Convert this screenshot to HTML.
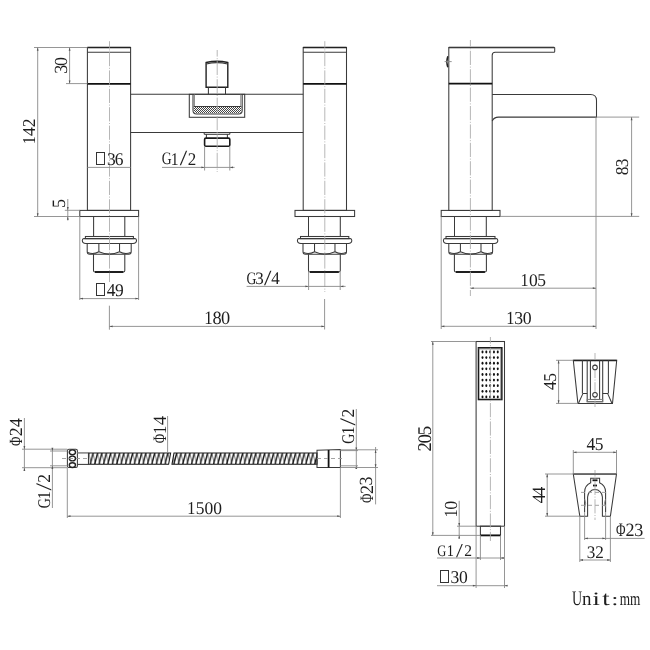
<!DOCTYPE html>
<html><head><meta charset="utf-8"><style>
html,body{margin:0;padding:0;background:#fff;}
.wrap{width:650px;height:650px;background:#fff;}
svg{display:block;will-change:transform;}
.o{fill:none;stroke:#3a3a3a;stroke-width:1.05;}
.k{fill:none;stroke:#111;stroke-width:1.8;}
.o2{fill:none;stroke:#222;stroke-width:1.4;}
.g2{fill:none;stroke:#888;stroke-width:1.6;}
.o4{fill:none;stroke:#222;stroke-width:1.5;}
.g3{fill:none;stroke:#555;stroke-width:1.4;}
.o3{fill:none;stroke:#1a1a1a;stroke-width:1.6;}
.g{fill:none;stroke:#777;stroke-width:0.9;}
.d{fill:none;stroke:#8a8a8a;stroke-width:0.9;}
.c{fill:none;stroke:#aaa;stroke-width:0.85;stroke-dasharray:14.2 1.6 1 1.6;stroke-dashoffset:7.6;}
.cd{fill:none;stroke:#999;stroke-width:0.9;stroke-dasharray:4 3;}
.ah{fill:#555;}
.t{fill:#1e1e1e;font-size:100px;stroke:none;text-rendering:geometricPrecision;}
.t2{fill:none;stroke:#333;stroke-width:1;shape-rendering:crispEdges;}
.hatch{fill:url(#ck);stroke:none;}
.dot{fill:#111;}
</style></head><body>
<svg width="650" height="650" viewBox="0 0 650 650">

<rect class="o" x="87.4" y="47.5" width="43.2" height="162.9"/>
<line class="o2" x1="87.4" y1="47.5" x2="130.6" y2="47.5"/>
<line class="o" x1="87.4" y1="52.2" x2="130.6" y2="52.2"/>
<line class="k" x1="87.4" y1="83.8" x2="130.6" y2="83.8"/>
<rect class="o" x="303.2" y="47.5" width="43.3" height="162.9"/>
<line class="o2" x1="303.2" y1="47.5" x2="346.5" y2="47.5"/>
<line class="o" x1="303.2" y1="52.2" x2="346.5" y2="52.2"/>
<line class="k" x1="303.2" y1="83.8" x2="346.5" y2="83.8"/>
<line class="o" x1="130.6" y1="94.3" x2="303.2" y2="94.3"/>
<line class="o" x1="130.6" y1="132.5" x2="303.2" y2="132.5"/>
<rect class="o" x="79.8" y="210.4" width="58.8" height="6.1"/>
<line class="o" x1="93.6" y1="216.5" x2="93.6" y2="236.5"/>
<line class="o" x1="124.8" y1="216.5" x2="124.8" y2="236.5"/>
<rect class="o" x="85.4" y="236.5" width="48" height="2.1"/>
<path class="o" d="M83.8,238.6 L135,238.6 Q136.5,238.8 136.5,240.6 Q136.5,243.4 133,243.5 L85.8,243.5 Q82.3,243.4 82.3,240.6 Q82.3,238.8 83.8,238.6 Z"/>
<path class="o" d="M87.2,243.5 L87.2,251.5 Q87.2,254.3 89.7,254.3 L128.7,254.3 Q131.2,254.3 131.2,251.5 L131.2,243.5"/>
<line class="o" x1="98.86" y1="243.5" x2="98.86" y2="251.8"/>
<line class="o" x1="119.54" y1="243.5" x2="119.54" y2="251.8"/>
<path class="o" d="M87.7,252.5 Q93.03,255 98.86,251.8 Q109.5,256.5 119.54,251.8 Q125.37,255 130.7,252.5"/>
<path class="o" d="M93.5,254.3 L93.5,270.5 Q93.5,272 95,272 L123.3,272 Q124.8,272 124.8,270.5 L124.8,254.3"/>
<line class="k" x1="95" y1="272" x2="123.3" y2="272"/>
<rect class="o" x="295" y="210.4" width="59.6" height="6.1"/>
<line class="o" x1="308.5" y1="216.5" x2="308.5" y2="236.5"/>
<line class="o" x1="340.3" y1="216.5" x2="340.3" y2="236.5"/>
<rect class="o" x="300.5" y="236.5" width="48.3" height="2.1"/>
<path class="o" d="M298.9,238.6 L350.3,238.6 Q351.8,238.8 351.8,240.6 Q351.8,243.4 348.3,243.5 L300.9,243.5 Q297.4,243.4 297.4,240.6 Q297.4,238.8 298.9,238.6 Z"/>
<path class="o" d="M303,243.5 L303,251.5 Q303,254.3 305.5,254.3 L344,254.3 Q346.5,254.3 346.5,251.5 L346.5,243.5"/>
<line class="o" x1="314.53" y1="243.5" x2="314.53" y2="251.8"/>
<line class="o" x1="334.97" y1="243.5" x2="334.97" y2="251.8"/>
<path class="o" d="M303.5,252.5 Q308.76,255 314.53,251.8 Q324.6,256.5 334.97,251.8 Q340.74,255 346,252.5"/>
<path class="o" d="M308.5,254.3 L308.5,270.5 Q308.5,272 310,272 L338.8,272 Q340.3,272 340.3,270.5 L340.3,254.3"/>
<line class="k" x1="310" y1="272" x2="338.8" y2="272"/>
<path class="o2" d="M206.1,87.3 L206.1,62.5 Q217,60.1 227.8,62.5 L227.8,87.3 Z"/>
<path class="o" d="M206.3,63.9 Q217,61.3 227.6,63.9"/>
<line class="o" x1="208.4" y1="87.3" x2="208.4" y2="94.3"/>
<line class="o" x1="225.5" y1="87.3" x2="225.5" y2="94.3"/>
<rect class="o" x="189.3" y="94.3" width="55.4" height="23"/>
<defs><pattern id="ck" patternUnits="userSpaceOnUse" width="2" height="2"><rect width="2" height="2" fill="#fff"/><rect width="1" height="1" fill="#444"/><rect x="1" y="1" width="1" height="1" fill="#444"/></pattern></defs>
<path class="hatch" d="M193.8,106.4 L241.4,106.4 L241.4,110.5 Q241.4,113.2 238.6,113.2 L196.6,113.2 Q193.8,113.2 193.8,110.5 Z"/>
<path class="o" d="M193,94.3 L193,110.5 Q193,114 196.5,114 L238.6,114 Q242.2,114 242.2,110.5 L242.2,94.3"/>
<path class="g" d="M194.4,94.3 L194.4,106.4 M240.8,94.3 L240.8,106.4"/>
<line class="o" x1="193.8" y1="106.4" x2="241.4" y2="106.4"/>
<line class="o" x1="204.2" y1="134.3" x2="229.8" y2="134.3"/>
<line class="o" x1="204.2" y1="132.5" x2="204.2" y2="134.3"/>
<line class="o" x1="229.8" y1="132.5" x2="229.8" y2="134.3"/>
<line class="o" x1="206.4" y1="134.3" x2="206.4" y2="137.9"/>
<line class="o" x1="227.4" y1="134.3" x2="227.4" y2="137.9"/>
<rect class="o3" x="204.6" y="138.1" width="25.2" height="8.1" rx="1.3"/>
<line class="c" x1="109.5" y1="41.2" x2="109.5" y2="282"/>
<line class="c" x1="324.8" y1="41.2" x2="324.8" y2="292"/>
<line class="c" x1="217.2" y1="50" x2="217.2" y2="172"/>
<line class="o2" x1="448.8" y1="47.5" x2="554.2" y2="47.5"/>
<path class="o" d="M448.8,210.4 L448.8,47.5 L554.2,47.5 Q554.7,47.5 554.7,47.8 L554.7,51.6 Q554.7,52.3 553.9,52.3 L495.2,52.3 Q492.2,52.3 492.2,55.3 L492.2,210.4 Z"/>
<line class="k" x1="448.8" y1="83.6" x2="492.2" y2="83.6"/>
<path class="o" d="M492.2,94.4 L590.5,94.4 Q596.5,94.4 596.5,100.4 L596.5,117.1 L498.5,117.1 Q494,117.1 492.2,121"/>
<path class="o2" d="M447.8,56.2 Q445.9,61.7 447.8,67.2"/>
<line class="d" x1="444.6" y1="61.6" x2="451.7" y2="61.6"/>
<rect class="o" x="441.2" y="210.4" width="58.8" height="6.1"/>
<line class="o" x1="454.5" y1="216.5" x2="454.5" y2="236.5"/>
<line class="o" x1="486.3" y1="216.5" x2="486.3" y2="236.5"/>
<rect class="o" x="446" y="236.5" width="49" height="2.1"/>
<path class="o" d="M444.9,238.6 L496.3,238.6 Q497.8,238.8 497.8,240.6 Q497.8,243.4 494.3,243.5 L446.9,243.5 Q443.4,243.4 443.4,240.6 Q443.4,238.8 444.9,238.6 Z"/>
<path class="o" d="M448.8,243.5 L448.8,251.5 Q448.8,254.3 451.3,254.3 L490.1,254.3 Q492.6,254.3 492.6,251.5 L492.6,243.5"/>
<line class="o" x1="460.41" y1="243.5" x2="460.41" y2="251.8"/>
<line class="o" x1="480.99" y1="243.5" x2="480.99" y2="251.8"/>
<path class="o" d="M449.3,252.5 Q454.6,255 460.41,251.8 Q470.5,256.5 480.99,251.8 Q486.8,255 492.1,252.5"/>
<path class="o" d="M454.4,254.3 L454.4,270.5 Q454.4,272 455.9,272 L484.9,272 Q486.4,272 486.4,270.5 L486.4,254.3"/>
<line class="k" x1="455.9" y1="272" x2="484.9" y2="272"/>
<line class="c" x1="470.4" y1="40" x2="470.4" y2="296"/>
<line class="d" x1="34" y1="47.5" x2="87.4" y2="47.5"/>
<line class="d" x1="34" y1="216.5" x2="79.8" y2="216.5"/>
<line class="d" x1="37.7" y1="47.5" x2="37.7" y2="216.5"/>
<polygon class="ah" points="37.7,47.5 36.8,50.7 38.6,50.7"/>
<polygon class="ah" points="37.7,216.5 36.8,213.3 38.6,213.3"/>
<text class="t" font-family="Liberation Serif" transform="translate(35.3,144.15) rotate(-90) scale(0.1611,0.1818)">1</text>
<text class="t" font-family="Liberation Serif" transform="translate(35.3,135.89) rotate(-90) scale(0.1745,0.1818)">4</text>
<text class="t" font-family="Liberation Serif" transform="translate(35.3,127.37) rotate(-90) scale(0.1745,0.1818)">2</text>
<line class="d" x1="66" y1="83.6" x2="87.4" y2="83.6"/>
<line class="d" x1="69.6" y1="47.5" x2="69.6" y2="83.6"/>
<polygon class="ah" points="69.6,47.5 68.7,50.7 70.5,50.7"/>
<polygon class="ah" points="69.6,83.6 68.7,80.4 70.5,80.4"/>
<text class="t" font-family="Liberation Serif" transform="translate(67.21,73.7) rotate(-90) scale(0.1804,0.1851)">3</text>
<text class="t" font-family="Liberation Serif" transform="translate(67.22,66.1) rotate(-90) scale(0.1804,0.1837)">0</text>
<line class="d" x1="64.8" y1="210.3" x2="79.8" y2="210.3"/>
<line class="d" x1="67.8" y1="199" x2="67.8" y2="220.5"/>
<polygon class="ah" points="67.8,210.3 66.9,207.1 68.7,207.1"/>
<polygon class="ah" points="67.8,216.5 66.9,219.7 68.7,219.7"/>
<text class="t" font-family="Liberation Serif" transform="translate(65.21,207.93) rotate(-90) scale(0.1818,0.1880)">5</text>
<line class="d" x1="87.4" y1="167.4" x2="130.6" y2="167.4"/>
<rect class="t2" x="96.5" y="152.5" width="8" height="12"/>
<text class="t" font-family="Liberation Serif" transform="translate(106.93,164.72) scale(0.1745,0.1791)">3</text>
<text class="t" font-family="Liberation Serif" transform="translate(114.8,164.72) scale(0.1745,0.1791)">6</text>
<line class="d" x1="162" y1="167.4" x2="234.6" y2="167.4"/>
<polygon class="ah" points="204.6,167.4 201.4,166.5 201.4,168.3"/>
<polygon class="ah" points="229.8,167.4 233,166.5 233,168.3"/>
<line class="d" x1="204.6" y1="146.5" x2="204.6" y2="170.5"/>
<line class="d" x1="229.8" y1="146.5" x2="229.8" y2="170.5"/>
<text class="t" font-family="Liberation Serif" transform="translate(161.65,164.43) scale(0.1368,0.1746)">G</text>
<text class="t" font-family="Liberation Serif" transform="translate(170.87,164.6) scale(0.1571,0.1773)">1</text>
<text class="t" font-family="Liberation Serif" transform="translate(179.73,165.44) scale(0.2680,0.2148)">/</text>
<text class="t" font-family="Liberation Serif" transform="translate(187.63,164.6) scale(0.1702,0.1773)">2</text>
<line class="d" x1="79.8" y1="216.5" x2="79.8" y2="300"/>
<line class="d" x1="138.6" y1="216.5" x2="138.6" y2="300"/>
<line class="d" x1="79.8" y1="298.6" x2="138.6" y2="298.6"/>
<polygon class="ah" points="79.8,298.6 83,297.7 83,299.5"/>
<polygon class="ah" points="138.6,298.6 135.4,297.7 135.4,299.5"/>
<rect class="t2" x="96.5" y="283.5" width="8" height="12"/>
<text class="t" font-family="Liberation Serif" transform="translate(106.85,296) scale(0.1745,0.1818)">4</text>
<text class="t" font-family="Liberation Serif" transform="translate(114.97,295.82) scale(0.1745,0.1791)">9</text>
<line class="d" x1="109.4" y1="305.7" x2="109.4" y2="329.7"/>
<line class="d" x1="324.6" y1="299" x2="324.6" y2="329.5"/>
<line class="d" x1="109.4" y1="326.4" x2="324.6" y2="326.4"/>
<polygon class="ah" points="109.4,326.4 112.6,325.5 112.6,327.3"/>
<polygon class="ah" points="324.6,326.4 321.4,325.5 321.4,327.3"/>
<text class="t" font-family="Liberation Serif" transform="translate(204.18,323.9) scale(0.1692,0.1909)">1</text>
<text class="t" font-family="Liberation Serif" transform="translate(212.52,323.71) scale(0.1833,0.1867)">8</text>
<text class="t" font-family="Liberation Serif" transform="translate(220.97,323.71) scale(0.1833,0.1867)">0</text>
<line class="d" x1="246.6" y1="286.4" x2="345.6" y2="286.4"/>
<polygon class="ah" points="308.6,286.4 305.4,285.5 305.4,287.3"/>
<polygon class="ah" points="340.2,286.4 343.4,285.5 343.4,287.3"/>
<line class="d" x1="308.6" y1="272" x2="308.6" y2="290"/>
<line class="d" x1="340.2" y1="272" x2="340.2" y2="290"/>
<text class="t" font-family="Liberation Serif" transform="translate(246.55,283.53) scale(0.1368,0.1746)">G</text>
<text class="t" font-family="Liberation Serif" transform="translate(255.24,283.53) scale(0.1702,0.1746)">3</text>
<text class="t" font-family="Liberation Serif" transform="translate(263.93,284.54) scale(0.2680,0.2148)">/</text>
<text class="t" font-family="Liberation Serif" transform="translate(271.35,283.7) scale(0.1702,0.1773)">4</text>
<line class="d" x1="596.5" y1="117.1" x2="639.2" y2="117.1"/>
<line class="d" x1="500" y1="216.4" x2="639.2" y2="216.4"/>
<line class="d" x1="631.6" y1="117.1" x2="631.6" y2="216.4"/>
<polygon class="ah" points="631.6,117.1 630.7,120.3 632.5,120.3"/>
<polygon class="ah" points="631.6,216.4 630.7,213.2 632.5,213.2"/>
<text class="t" font-family="Liberation Serif" transform="translate(627.92,175.3) rotate(-90) scale(0.1760,0.1793)">8</text>
<text class="t" font-family="Liberation Serif" transform="translate(627.92,167.2) rotate(-90) scale(0.1760,0.1806)">3</text>
<line class="d" x1="596" y1="117.1" x2="596" y2="329"/>
<line class="d" x1="441.2" y1="216.5" x2="441.2" y2="329"/>
<line class="d" x1="470.5" y1="288.2" x2="596" y2="288.2"/>
<polygon class="ah" points="470.5,288.2 473.7,287.3 473.7,289.1"/>
<polygon class="ah" points="596,288.2 592.8,287.3 592.8,289.1"/>
<text class="t" font-family="Liberation Serif" transform="translate(520.45,285.9) scale(0.1611,0.1818)">1</text>
<text class="t" font-family="Liberation Serif" transform="translate(528.9,285.72) scale(0.1745,0.1778)">0</text>
<text class="t" font-family="Liberation Serif" transform="translate(537.27,285.72) scale(0.1745,0.1805)">5</text>
<line class="d" x1="441.2" y1="326.3" x2="596" y2="326.3"/>
<polygon class="ah" points="441.2,326.3 444.4,325.4 444.4,327.2"/>
<polygon class="ah" points="596,326.3 592.8,325.4 592.8,327.2"/>
<text class="t" font-family="Liberation Serif" transform="translate(506.13,323.8) scale(0.1638,0.1848)">1</text>
<text class="t" font-family="Liberation Serif" transform="translate(514.35,323.62) scale(0.1775,0.1821)">3</text>
<text class="t" font-family="Liberation Serif" transform="translate(522.84,323.62) scale(0.1775,0.1807)">0</text>
<defs><pattern id="hs" patternUnits="userSpaceOnUse" width="4.4" height="11.3" x="0" y="453"><rect width="4.4" height="11.3" fill="#fff"/><path d="M-2.8,11.3 L0,0 L1.4,0 L-1.4,11.3 Z M1.6,11.3 L4.4,0 L5.8,0 L3.0,11.3 Z" fill="#111"/><path d="M0.8,0 L3.0,11.3 M5.2,0 L7.4,11.3 M-3.6,0 L-1.4,11.3" stroke="#333" stroke-width="0.6"/></pattern></defs>
<path d="M88.5,453 L170.6,453 L168.6,464.3 L88.5,464.3 Z M174,453 L317,453 L317,464.3 L172,464.3 Z" fill="url(#hs)" stroke="#1a1a1a" stroke-width="1.1"/>
<rect class="o" x="67.4" y="449.3" width="10" height="18.2" rx="1.5"/>
<ellipse class="o2" cx="72.4" cy="452.3" rx="3.1" ry="2.4"/>
<ellipse class="o2" cx="72.4" cy="458.5" rx="3.1" ry="2.4"/>
<ellipse class="o2" cx="72.4" cy="465.1" rx="3.1" ry="2.4"/>
<line class="g2" x1="77.4" y1="452.9" x2="88.5" y2="452.9"/>
<line class="o" x1="77.4" y1="464.4" x2="88.5" y2="464.4"/>
<line class="o" x1="88.5" y1="452.9" x2="88.5" y2="464.4"/>
<path class="o" d="M317,450.2 L340.4,449.6 L340.4,467.5 L317,467.5 Z"/>
<line class="k" x1="328.6" y1="450" x2="328.6" y2="467.5"/>
<line class="cd" x1="62" y1="458.5" x2="90" y2="458.5"/>
<line class="cd" x1="317" y1="458.5" x2="345" y2="458.5"/>
<line class="d" x1="22" y1="449.2" x2="67.3" y2="449.2"/>
<line class="d" x1="22" y1="467.7" x2="67.3" y2="467.7"/>
<line class="d" x1="24.4" y1="418" x2="24.4" y2="471"/>
<polygon class="ah" points="24.4,449.2 23.5,446 25.3,446"/>
<polygon class="ah" points="24.4,467.7 23.5,470.9 25.3,470.9"/>
<text class="t" font-family="Liberation Serif" transform="translate(21.7,445.88) rotate(-90) scale(0.1275,0.1863)">Φ</text>
<text class="t" font-family="Liberation Serif" transform="translate(21.7,436.28) rotate(-90) scale(0.1775,0.1848)">2</text>
<text class="t" font-family="Liberation Serif" transform="translate(21.7,427.11) rotate(-90) scale(0.1775,0.1848)">4</text>
<line class="d" x1="50" y1="451" x2="67.3" y2="451"/>
<line class="d" x1="50" y1="465.8" x2="67.3" y2="465.8"/>
<line class="d" x1="52.4" y1="448" x2="52.4" y2="508"/>
<polygon class="ah" points="52.4,451 51.5,447.8 53.3,447.8"/>
<polygon class="ah" points="52.4,465.8 51.5,469 53.3,469"/>
<text class="t" font-family="Liberation Serif" transform="translate(50.22,508.16) rotate(-90) scale(0.1403,0.1791)">G</text>
<text class="t" font-family="Liberation Serif" transform="translate(50.4,499.16) rotate(-90) scale(0.1611,0.1818)">1</text>
<text class="t" font-family="Liberation Serif" transform="translate(51.26,490.52) rotate(-90) scale(0.2749,0.2203)">/</text>
<text class="t" font-family="Liberation Serif" transform="translate(50.4,482.87) rotate(-90) scale(0.1745,0.1818)">2</text>
<line class="d" x1="167.6" y1="416" x2="167.6" y2="453"/>
<text class="t" font-family="Liberation Serif" transform="translate(165.8,443.29) rotate(-90) scale(0.1296,0.1893)">Φ</text>
<text class="t" font-family="Liberation Serif" transform="translate(165.8,433.89) rotate(-90) scale(0.1665,0.1879)">1</text>
<text class="t" font-family="Liberation Serif" transform="translate(165.8,424.95) rotate(-90) scale(0.1804,0.1879)">4</text>
<line class="d" x1="340.4" y1="450.6" x2="358" y2="450.6"/>
<line class="d" x1="340.4" y1="465.8" x2="358" y2="465.8"/>
<line class="d" x1="356.3" y1="409" x2="356.3" y2="469"/>
<polygon class="ah" points="356.3,450.6 355.4,447.4 357.2,447.4"/>
<polygon class="ah" points="356.3,465.8 355.4,469 357.2,469"/>
<text class="t" font-family="Liberation Serif" transform="translate(353.92,443.66) rotate(-90) scale(0.1403,0.1791)">G</text>
<text class="t" font-family="Liberation Serif" transform="translate(354.1,434.39) rotate(-90) scale(0.1611,0.1818)">1</text>
<text class="t" font-family="Liberation Serif" transform="translate(354.96,425.49) rotate(-90) scale(0.2749,0.2203)">/</text>
<text class="t" font-family="Liberation Serif" transform="translate(354.1,417.57) rotate(-90) scale(0.1745,0.1818)">2</text>
<line class="d" x1="340.4" y1="449.8" x2="378" y2="449.8"/>
<line class="d" x1="340.4" y1="467.5" x2="378" y2="467.5"/>
<line class="d" x1="375.6" y1="447" x2="375.6" y2="504.4"/>
<polygon class="ah" points="375.6,449.8 374.7,453 376.5,453"/>
<polygon class="ah" points="375.6,467.5 374.7,464.3 376.5,464.3"/>
<text class="t" font-family="Liberation Serif" transform="translate(372.5,502.99) rotate(-90) scale(0.1296,0.1893)">Φ</text>
<text class="t" font-family="Liberation Serif" transform="translate(372.5,493.95) rotate(-90) scale(0.1804,0.1879)">2</text>
<text class="t" font-family="Liberation Serif" transform="translate(372.31,485.4) rotate(-90) scale(0.1804,0.1851)">3</text>
<line class="d" x1="67.3" y1="468" x2="67.3" y2="518"/>
<line class="d" x1="340.4" y1="467.5" x2="340.4" y2="518"/>
<line class="d" x1="67.3" y1="516.2" x2="340.4" y2="516.2"/>
<polygon class="ah" points="67.3,516.2 70.5,515.3 70.5,517.1"/>
<polygon class="ah" points="340.4,516.2 337.2,515.3 337.2,517.1"/>
<text class="t" font-family="Liberation Serif" transform="translate(187.25,513.9) scale(0.1611,0.1818)">1</text>
<text class="t" font-family="Liberation Serif" transform="translate(195.69,513.72) scale(0.1745,0.1805)">5</text>
<text class="t" font-family="Liberation Serif" transform="translate(204.57,513.72) scale(0.1745,0.1778)">0</text>
<text class="t" font-family="Liberation Serif" transform="translate(213.27,513.72) scale(0.1745,0.1778)">0</text>
<rect class="o" x="476.1" y="341.5" width="28.4" height="184.7"/>
<rect class="o3" x="478.5" y="347.8" width="23.3" height="51.7"/>
<line class="g" x1="478.5" y1="348.9" x2="500.8" y2="348.9"/>
<line class="g" x1="500.8" y1="348.9" x2="500.8" y2="399.5"/>
<ellipse class="dot" cx="482.5" cy="352" rx="1.0" ry="1.4"/>
<ellipse class="dot" cx="482.5" cy="357.62" rx="1.0" ry="1.4"/>
<ellipse class="dot" cx="482.5" cy="363.24" rx="1.0" ry="1.4"/>
<ellipse class="dot" cx="482.5" cy="368.86" rx="1.0" ry="1.4"/>
<ellipse class="dot" cx="482.5" cy="374.48" rx="1.0" ry="1.4"/>
<ellipse class="dot" cx="482.5" cy="380.1" rx="1.0" ry="1.4"/>
<ellipse class="dot" cx="482.5" cy="385.72" rx="1.0" ry="1.4"/>
<ellipse class="dot" cx="482.5" cy="391.34" rx="1.0" ry="1.4"/>
<ellipse class="dot" cx="482.5" cy="396.96" rx="1.0" ry="1.4"/>
<ellipse class="dot" cx="486.32" cy="352" rx="1.0" ry="1.4"/>
<ellipse class="dot" cx="486.32" cy="357.62" rx="1.0" ry="1.4"/>
<ellipse class="dot" cx="486.32" cy="363.24" rx="1.0" ry="1.4"/>
<ellipse class="dot" cx="486.32" cy="368.86" rx="1.0" ry="1.4"/>
<ellipse class="dot" cx="486.32" cy="374.48" rx="1.0" ry="1.4"/>
<ellipse class="dot" cx="486.32" cy="380.1" rx="1.0" ry="1.4"/>
<ellipse class="dot" cx="486.32" cy="385.72" rx="1.0" ry="1.4"/>
<ellipse class="dot" cx="486.32" cy="391.34" rx="1.0" ry="1.4"/>
<ellipse class="dot" cx="486.32" cy="396.96" rx="1.0" ry="1.4"/>
<ellipse class="dot" cx="490.14" cy="352" rx="1.0" ry="1.4"/>
<ellipse class="dot" cx="490.14" cy="357.62" rx="1.0" ry="1.4"/>
<ellipse class="dot" cx="490.14" cy="363.24" rx="1.0" ry="1.4"/>
<ellipse class="dot" cx="490.14" cy="368.86" rx="1.0" ry="1.4"/>
<ellipse class="dot" cx="490.14" cy="374.48" rx="1.0" ry="1.4"/>
<ellipse class="dot" cx="490.14" cy="380.1" rx="1.0" ry="1.4"/>
<ellipse class="dot" cx="490.14" cy="385.72" rx="1.0" ry="1.4"/>
<ellipse class="dot" cx="490.14" cy="391.34" rx="1.0" ry="1.4"/>
<ellipse class="dot" cx="490.14" cy="396.96" rx="1.0" ry="1.4"/>
<ellipse class="dot" cx="493.96" cy="352" rx="1.0" ry="1.4"/>
<ellipse class="dot" cx="493.96" cy="357.62" rx="1.0" ry="1.4"/>
<ellipse class="dot" cx="493.96" cy="363.24" rx="1.0" ry="1.4"/>
<ellipse class="dot" cx="493.96" cy="368.86" rx="1.0" ry="1.4"/>
<ellipse class="dot" cx="493.96" cy="374.48" rx="1.0" ry="1.4"/>
<ellipse class="dot" cx="493.96" cy="380.1" rx="1.0" ry="1.4"/>
<ellipse class="dot" cx="493.96" cy="385.72" rx="1.0" ry="1.4"/>
<ellipse class="dot" cx="493.96" cy="391.34" rx="1.0" ry="1.4"/>
<ellipse class="dot" cx="493.96" cy="396.96" rx="1.0" ry="1.4"/>
<ellipse class="dot" cx="497.78" cy="352" rx="1.0" ry="1.4"/>
<ellipse class="dot" cx="497.78" cy="357.62" rx="1.0" ry="1.4"/>
<ellipse class="dot" cx="497.78" cy="363.24" rx="1.0" ry="1.4"/>
<ellipse class="dot" cx="497.78" cy="368.86" rx="1.0" ry="1.4"/>
<ellipse class="dot" cx="497.78" cy="374.48" rx="1.0" ry="1.4"/>
<ellipse class="dot" cx="497.78" cy="380.1" rx="1.0" ry="1.4"/>
<ellipse class="dot" cx="497.78" cy="385.72" rx="1.0" ry="1.4"/>
<ellipse class="dot" cx="497.78" cy="391.34" rx="1.0" ry="1.4"/>
<ellipse class="dot" cx="497.78" cy="396.96" rx="1.0" ry="1.4"/>
<rect class="o" x="480.4" y="526.2" width="20.1" height="9.2"/>
<line class="k" x1="480.4" y1="535.4" x2="500.5" y2="535.4"/>
<line class="c" x1="490.4" y1="337" x2="490.4" y2="541"/>
<line class="d" x1="431" y1="341.5" x2="476.1" y2="341.5"/>
<line class="d" x1="431" y1="535.4" x2="480.4" y2="535.4"/>
<line class="d" x1="432.8" y1="341.5" x2="432.8" y2="535.4"/>
<polygon class="ah" points="432.8,341.5 431.9,344.7 433.7,344.7"/>
<polygon class="ah" points="432.8,535.4 431.9,532.2 433.7,532.2"/>
<text class="t" font-family="Liberation Serif" transform="translate(431,451.54) rotate(-90) scale(0.1876,0.1955)">2</text>
<text class="t" font-family="Liberation Serif" transform="translate(430.81,443.39) rotate(-90) scale(0.1876,0.1911)">0</text>
<text class="t" font-family="Liberation Serif" transform="translate(430.81,435.33) rotate(-90) scale(0.1876,0.1940)">5</text>
<line class="d" x1="457" y1="526.2" x2="476.1" y2="526.2"/>
<line class="d" x1="459.2" y1="500.8" x2="459.2" y2="538.8"/>
<polygon class="ah" points="459.2,526.2 458.3,523 460.1,523"/>
<polygon class="ah" points="459.2,535.4 458.3,538.6 460.1,538.6"/>
<text class="t" font-family="Liberation Serif" transform="translate(457.4,517.5) rotate(-90) scale(0.1665,0.1879)">1</text>
<text class="t" font-family="Liberation Serif" transform="translate(457.22,509.8) rotate(-90) scale(0.1804,0.1837)">0</text>
<line class="d" x1="480.4" y1="535.4" x2="480.4" y2="560"/>
<line class="d" x1="500.5" y1="535.4" x2="500.5" y2="560"/>
<line class="d" x1="437" y1="558" x2="504" y2="558"/>
<polygon class="ah" points="480.4,558 477.2,557.1 477.2,558.9"/>
<polygon class="ah" points="500.5,558 503.7,557.1 503.7,558.9"/>
<text class="t" font-family="Liberation Serif" transform="translate(437.3,556.14) scale(0.1251,0.1597)">G</text>
<text class="t" font-family="Liberation Serif" transform="translate(446.83,556.3) scale(0.1437,0.1621)">1</text>
<text class="t" font-family="Liberation Serif" transform="translate(456.04,557.07) scale(0.2451,0.1964)">/</text>
<text class="t" font-family="Liberation Serif" transform="translate(464.37,556.3) scale(0.1556,0.1621)">2</text>
<line class="d" x1="476.1" y1="526.2" x2="476.1" y2="588"/>
<line class="d" x1="504.5" y1="526.2" x2="504.5" y2="588"/>
<line class="d" x1="437" y1="585.7" x2="507" y2="585.7"/>
<polygon class="ah" points="476.1,585.7 472.9,584.8 472.9,586.6"/>
<polygon class="ah" points="504.5,585.7 507.7,584.8 507.7,586.6"/>
<rect class="t2" x="440.5" y="570.5" width="8" height="12"/>
<text class="t" font-family="Liberation Serif" transform="translate(450.42,583.32) scale(0.1760,0.1806)">3</text>
<text class="t" font-family="Liberation Serif" transform="translate(458.9,583.32) scale(0.1760,0.1793)">0</text>
<path class="o" d="M573.3,360.3 L616.7,360.3 L612.5,403.4 L577.9,403.4 Z"/>
<line class="o4" x1="573.3" y1="360.4" x2="616.7" y2="360.4"/>
<line class="o" x1="582.4" y1="360.3" x2="582.4" y2="393.4"/>
<line class="o" x1="608.4" y1="360.3" x2="608.4" y2="393.4"/>
<path class="o" d="M578.6,403 L583,393.4 L587.2,393.4 M611.8,403 L607.6,393.4 L602.7,393.4"/>
<path class="o" d="M587.2,360.3 L587.2,401.7 L602.7,401.7 L602.7,360.3"/>
<path class="o" d="M590.4,360.3 L590.4,399.4 L599.6,399.4 L599.6,360.3"/>
<rect class="g" x="587.2" y="399.4" width="15.5" height="2.3"/>
<line class="c" x1="595" y1="353" x2="595" y2="407"/>
<circle class="o" fill="#fff" style="fill:#fff" cx="595" cy="367.4" r="2.3"/><circle class="o" style="fill:#fff" cx="595" cy="394.8" r="2.3"/>
<line class="d" x1="556" y1="360.3" x2="573.3" y2="360.3"/>
<line class="d" x1="556" y1="403.4" x2="577.9" y2="403.4"/>
<line class="d" x1="558.6" y1="360.3" x2="558.6" y2="403.4"/>
<polygon class="ah" points="558.6,360.3 557.7,363.5 559.5,363.5"/>
<polygon class="ah" points="558.6,403.4 557.7,400.2 559.5,400.2"/>
<text class="t" font-family="Liberation Serif" transform="translate(556.2,389.95) rotate(-90) scale(0.1760,0.1833)">4</text>
<text class="t" font-family="Liberation Serif" transform="translate(556.02,381.8) rotate(-90) scale(0.1760,0.1820)">5</text>
<path class="o" d="M573.3,474 L616.5,474 L610.4,516.2 L602.4,516.2 L602.4,497 A7.4,7.4 0 0 0 587.6,497 L587.6,516.2 L579.8,516.2 Z"/>
<path class="o" d="M584.6,512 L584.6,492.5 A10.4,10.4 0 0 1 590.7,482.8 L590.7,478.2 L599.6,478.2 L599.6,482.8 A10.4,10.4 0 0 1 605.6,492.5 L605.6,512"/>
<path class="g" d="M584.6,499 Q586.8,503 584.6,507.5 M605.6,499 Q603.4,503 605.6,507.5"/>
<line class="k" x1="592.5" y1="480.3" x2="597.5" y2="480.3"/>
<line class="k" x1="593" y1="485.5" x2="597" y2="485.5"/>
<line class="cd" x1="581" y1="492.4" x2="609" y2="492.4"/>
<line class="cd" x1="581" y1="505.3" x2="609" y2="505.3"/>
<line class="c" x1="595" y1="470" x2="595" y2="520"/>
<line class="d" x1="573.3" y1="450" x2="573.3" y2="474"/>
<line class="d" x1="616.5" y1="450" x2="616.5" y2="474"/>
<line class="d" x1="573.3" y1="452.3" x2="616.5" y2="452.3"/>
<polygon class="ah" points="573.3,452.3 576.5,451.4 576.5,453.2"/>
<polygon class="ah" points="616.5,452.3 613.3,451.4 613.3,453.2"/>
<line class="g3" x1="573.3" y1="474.1" x2="616.5" y2="474.1"/>
<text class="t" font-family="Liberation Serif" transform="translate(586.55,449.7) scale(0.1745,0.1818)">4</text>
<text class="t" font-family="Liberation Serif" transform="translate(594.77,449.52) scale(0.1745,0.1805)">5</text>
<line class="d" x1="545" y1="474" x2="573.3" y2="474"/>
<line class="d" x1="545" y1="516.2" x2="579.8" y2="516.2"/>
<line class="d" x1="547.2" y1="474" x2="547.2" y2="516.2"/>
<polygon class="ah" points="547.2,474 546.3,477.2 548.1,477.2"/>
<polygon class="ah" points="547.2,516.2 546.3,513 548.1,513"/>
<text class="t" font-family="Liberation Serif" transform="translate(544.8,503.16) rotate(-90) scale(0.1804,0.1879)">4</text>
<text class="t" font-family="Liberation Serif" transform="translate(544.8,495.75) rotate(-90) scale(0.1804,0.1879)">4</text>
<line class="d" x1="584.6" y1="512" x2="584.6" y2="540"/>
<line class="d" x1="605.6" y1="512" x2="605.6" y2="540"/>
<line class="d" x1="584.6" y1="538.4" x2="644.6" y2="538.4"/>
<polygon class="ah" points="584.6,538.4 587.8,537.5 587.8,539.3"/>
<polygon class="ah" points="605.6,538.4 602.4,537.5 602.4,539.3"/>
<text class="t" font-family="Liberation Serif" transform="translate(616.11,535.8) scale(0.1296,0.1893)">Φ</text>
<text class="t" font-family="Liberation Serif" transform="translate(625.4,535.8) scale(0.1804,0.1879)">2</text>
<text class="t" font-family="Liberation Serif" transform="translate(634.2,535.61) scale(0.1804,0.1851)">3</text>
<line class="d" x1="579.8" y1="516.2" x2="579.8" y2="562"/>
<line class="d" x1="610.4" y1="516.2" x2="610.4" y2="562"/>
<line class="d" x1="579.8" y1="560" x2="610.4" y2="560"/>
<polygon class="ah" points="579.8,560 583,559.1 583,560.9"/>
<polygon class="ah" points="610.4,560 607.2,559.1 607.2,560.9"/>
<text class="t" font-family="Liberation Serif" transform="translate(586.74,557.72) scale(0.1716,0.1761)">3</text>
<text class="t" font-family="Liberation Serif" transform="translate(595.16,557.9) scale(0.1716,0.1788)">2</text>
<text class="t" font-family="Liberation Serif" transform="translate(572.02,604.79) scale(0.1397,0.2075)">U</text>
<text class="t" font-family="Liberation Serif" transform="translate(582.03,605) scale(0.1891,0.1957)">n</text>
<text class="t" font-family="Liberation Serif" transform="translate(592.47,605) scale(0.2667,0.1909)">i</text>
<text class="t" font-family="Liberation Serif" transform="translate(602.13,604.8) scale(0.2654,0.2035)">t</text>
<text class="t" font-family="Liberation Serif" transform="translate(611.55,604.74) scale(0.2435,0.1732)">:</text>
<text class="t" font-family="Liberation Serif" transform="translate(619.74,605) scale(0.1324,0.1894)">m</text>
<text class="t" font-family="Liberation Serif" transform="translate(629.94,605) scale(0.1324,0.1894)">m</text>
</svg></body></html>
